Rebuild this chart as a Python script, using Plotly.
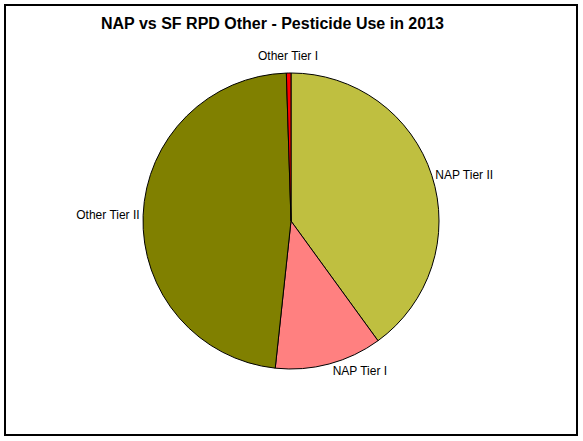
import plotly.graph_objects as go

labels = ["NAP Tier II", "NAP Tier I", "Other Tier II", "Other Tier I"]
values = [40.0, 11.7, 47.8, 0.5]
colors = ["#bfbf40", "#ff8080", "#808000", "#ff0000"]
title = "NAP vs SF RPD Other - Pesticide Use in 2013"

W, H = 583, 441
cx, cy, r = 291, 221, 148

# the tiny last slice gets its label placed above the pie, as in the reference
slice_text = labels[:-1] + [""]

fig = go.Figure(go.Pie(
    labels=labels,
    values=values,
    text=slice_text,
    sort=False,
    direction="clockwise",
    rotation=0,
    textinfo="text",
    textposition="outside",
    textfont=dict(family="Liberation Sans, Arial", size=12, color="black"),
    marker=dict(colors=colors, line=dict(color="black", width=1)),
    domain=dict(x=[(cx - r) / W, (cx + r) / W], y=[(H - cy - r) / H, (H - cy + r) / H]),
    showlegend=False,
    hoverinfo="label+value",
))

fig.update_layout(
    width=W, height=H,
    margin=dict(l=0, r=0, t=0, b=0),
    paper_bgcolor="white",
    plot_bgcolor="white",
    annotations=[
        dict(text="<b>" + title + "</b>",
             x=272 / W, y=1 - 23 / H, xref="paper", yref="paper",
             xanchor="center", yanchor="middle", showarrow=False,
             font=dict(family="Liberation Sans, Arial", size=16, color="black")),
        dict(text=labels[-1],
             x=288 / W, y=1 - 56 / H, xref="paper", yref="paper",
             xanchor="center", yanchor="middle", showarrow=False,
             font=dict(family="Liberation Sans, Arial", size=12, color="black")),
    ],
    shapes=[dict(type="rect", xref="paper", yref="paper",
                 x0=5 / W, x1=577 / W, y0=1 - 435 / H, y1=1 - 5 / H,
                 line=dict(color="black", width=2))],
)

fig.write_html(
    "out.html",
    config={"displayModeBar": False},
    post_script="document.body.style.margin='0';document.body.style.overflow='hidden';",
)
